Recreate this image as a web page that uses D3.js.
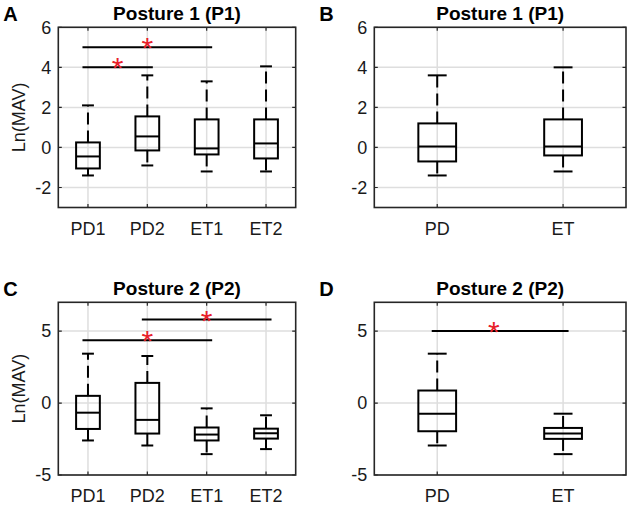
<!DOCTYPE html>
<meta charset="utf-8">
<script src="https://d3js.org/d3.v7.min.js"></script>
<style>
  body { margin: 0; background: #fff; }
  svg text { font-family: "Liberation Sans", Arial, Helvetica, sans-serif; }
</style>
<body>
<div id="chart"></div>
<script>
// categories
var groupCats = ["PD1", "PD2", "ET1", "ET2"];
var pooledCats = ["PD", "ET"];

// box stats per category: [lower whisker, q1, median, q3, upper whisker]
var statsA = [[-1.4, -1.05, -0.45, 0.25, 2.1],
              [-0.9, -0.15, 0.55, 1.55, 3.6],
              [-1.2, -0.35, -0.05, 1.4, 3.3],
              [-1.2, -0.55, 0.2, 1.4, 4.05]];
var statsB = [[-1.4, -0.7, 0.05, 1.2, 3.6],
              [-1.2, -0.4, 0.05, 1.4, 4.0]];
var statsC = [[-2.6, -1.8, -0.67, 0.5, 3.43],
              [-2.95, -2.12, -1.17, 1.4, 3.27],
              [-3.55, -2.6, -2.19, -1.7, -0.37],
              [-3.2, -2.47, -2.1, -1.78, -0.85]];
var statsD = [[-2.95, -1.96, -0.74, 0.87, 3.43],
              [-3.55, -2.49, -2.12, -1.73, -0.74]];

// significance bars: [from cat, to cat, y value, star x]
var sigA = [[1, 3, 5, 2], [1, 2, 4, 1.5]];
var sigB = [];
var sigC = [[1, 3, 4.37, 2], [2, 4, 5.8, 3]];
var sigD = [[1, 2, 5, 1.45]];

var yTicksP1 = [-2, 0, 2, 4, 6];
var yTicksP2 = [-5, 0, 5];
var yDomP1 = [-3, 6];
var yDomP2 = [-5, 7];

var svg = d3.select("#chart").append("svg")
    .attr("width", 633)
    .attr("height", 506);

var panels = [
  {letter: "A", title: "Posture 1 (P1)", cats: groupCats, stats: statsA, sig: sigA,
   yTicks: yTicksP1, yDom: yDomP1, x0: 58.3, x1: 295.7, y0: 27.3, y1: 207.5, boxW: 0.4, ylab: true},
  {letter: "B", title: "Posture 1 (P1)", cats: pooledCats, stats: statsB, sig: sigB,
   yTicks: yTicksP1, yDom: yDomP1, x0: 374.3, x1: 626, y0: 27.3, y1: 207.5, boxW: 0.3, ylab: false},
  {letter: "C", title: "Posture 2 (P2)", cats: groupCats, stats: statsC, sig: sigC,
   yTicks: yTicksP2, yDom: yDomP2, x0: 58.3, x1: 295.7, y0: 302.3, y1: 475, boxW: 0.4, ylab: true},
  {letter: "D", title: "Posture 2 (P2)", cats: pooledCats, stats: statsD, sig: sigD,
   yTicks: yTicksP2, yDom: yDomP2, x0: 374.3, x1: 626, y0: 302.3, y1: 475, boxW: 0.3, ylab: false}
];

panels.forEach(function(p) {
  var n = p.cats.length;
  var x = d3.scaleLinear().domain([0.5, n + 0.5]).range([p.x0, p.x1]);
  var y = d3.scaleLinear().domain(p.yDom).range([p.y1, p.y0]);
  var g = svg.append("g");
  var xs = d3.range(1, n + 1);

  // grid
  g.selectAll(".vg").data(xs).enter().append("line")
    .attr("x1", d => x(d)).attr("x2", d => x(d))
    .attr("y1", p.y0).attr("y2", p.y1)
    .attr("stroke", "#dedede").attr("stroke-width", 1.5);
  g.selectAll(".hg").data(p.yTicks).enter().append("line")
    .attr("x1", p.x0).attr("x2", p.x1)
    .attr("y1", d => y(d)).attr("y2", d => y(d))
    .attr("stroke", "#dedede").attr("stroke-width", 1.5);

  // inward ticks on all four sides
  var tl = 3.5;
  g.selectAll(".tl").data(p.yTicks).enter().append("path")
    .attr("d", d => "M" + p.x0 + "," + y(d) + "h" + tl + "M" + p.x1 + "," + y(d) + "h" + (-tl))
    .attr("stroke", "#262626").attr("stroke-width", 1.2);
  g.selectAll(".tx").data(xs).enter().append("path")
    .attr("d", d => "M" + x(d) + "," + p.y1 + "v" + (-tl) + "M" + x(d) + "," + p.y0 + "v" + tl)
    .attr("stroke", "#262626").attr("stroke-width", 1.2);

  // tick labels
  g.selectAll(".yl").data(p.yTicks).enter().append("text")
    .attr("x", p.x0 - 7).attr("y", d => y(d) + 6.3)
    .attr("text-anchor", "end").attr("font-size", 18).attr("fill", "#1a1a1a")
    .text(d => d);
  g.selectAll(".xl").data(p.cats).enter().append("text")
    .attr("x", (d, i) => x(i + 1)).attr("y", p.y1 + 27)
    .attr("text-anchor", "middle").attr("font-size", 18).attr("fill", "#1a1a1a")
    .text(d => d);

  // boxes
  var bw = p.boxW, cw = p.boxW / 2;
  var bx = g.selectAll(".bx").data(p.stats).enter().append("g");
  // whiskers (dashed), drawn from box edge outward
  bx.append("line")
    .attr("x1", (d, i) => x(i + 1)).attr("x2", (d, i) => x(i + 1))
    .attr("y1", d => y(d[3])).attr("y2", d => y(d[4]))
    .attr("stroke", "#000").attr("stroke-width", 2).attr("stroke-dasharray", "12,6");
  bx.append("line")
    .attr("x1", (d, i) => x(i + 1)).attr("x2", (d, i) => x(i + 1))
    .attr("y1", d => y(d[1])).attr("y2", d => y(d[0]))
    .attr("stroke", "#000").attr("stroke-width", 2).attr("stroke-dasharray", "12,6");
  // caps
  [0, 4].forEach(function(k) {
    bx.append("line")
      .attr("x1", (d, i) => x(i + 1 - cw / 2)).attr("x2", (d, i) => x(i + 1 + cw / 2))
      .attr("y1", d => y(d[k])).attr("y2", d => y(d[k]))
      .attr("stroke", "#000").attr("stroke-width", 2);
  });
  bx.append("rect")
    .attr("x", (d, i) => x(i + 1 - bw / 2))
    .attr("width", (d, i) => x(i + 1 + bw / 2) - x(i + 1 - bw / 2))
    .attr("y", d => y(d[3]))
    .attr("height", d => y(d[1]) - y(d[3]))
    .attr("fill", "none").attr("stroke", "#000").attr("stroke-width", 2);
  bx.append("line")
    .attr("x1", (d, i) => x(i + 1 - bw / 2)).attr("x2", (d, i) => x(i + 1 + bw / 2))
    .attr("y1", d => y(d[2])).attr("y2", d => y(d[2]))
    .attr("stroke", "#000").attr("stroke-width", 2);

  // significance bars and stars
  var sg = g.selectAll(".sg").data(p.sig).enter().append("g");
  sg.append("line")
    .attr("x1", d => x(d[0]) - 5.5).attr("x2", d => x(d[1]) + 5.5)
    .attr("y1", d => y(d[2])).attr("y2", d => y(d[2]))
    .attr("stroke", "#000").attr("stroke-width", 2);
  sg.append("text")
    .attr("x", d => x(d[3])).attr("y", d => y(d[2]) - 6 + 17)
    .attr("text-anchor", "middle").attr("font-size", 30).attr("fill", "#e8202a")
    .text("*");

  // axes frame
  g.append("rect")
    .attr("x", p.x0).attr("y", p.y0)
    .attr("width", p.x1 - p.x0).attr("height", p.y1 - p.y0)
    .attr("fill", "none").attr("stroke", "#262626").attr("stroke-width", 1.6);

  // title and panel letter
  g.append("text")
    .attr("x", (p.x0 + p.x1) / 2).attr("y", p.y0 - 7)
    .attr("text-anchor", "middle").attr("font-size", 19).attr("font-weight", "bold")
    .text(p.title);
  g.append("text")
    .attr("x", p.x0 - 55).attr("y", p.y0 - 6.5)
    .attr("font-size", 20).attr("font-weight", "bold")
    .text(p.letter);

  if (p.ylab) {
    g.append("text")
      .attr("transform", "translate(" + (p.x0 - 33) + "," + ((p.y0 + p.y1) / 2) + ") rotate(-90)")
      .attr("text-anchor", "middle").attr("font-size", 18).attr("fill", "#1a1a1a")
      .text("Ln(MAV)");
  }
});
</script>
</body>
